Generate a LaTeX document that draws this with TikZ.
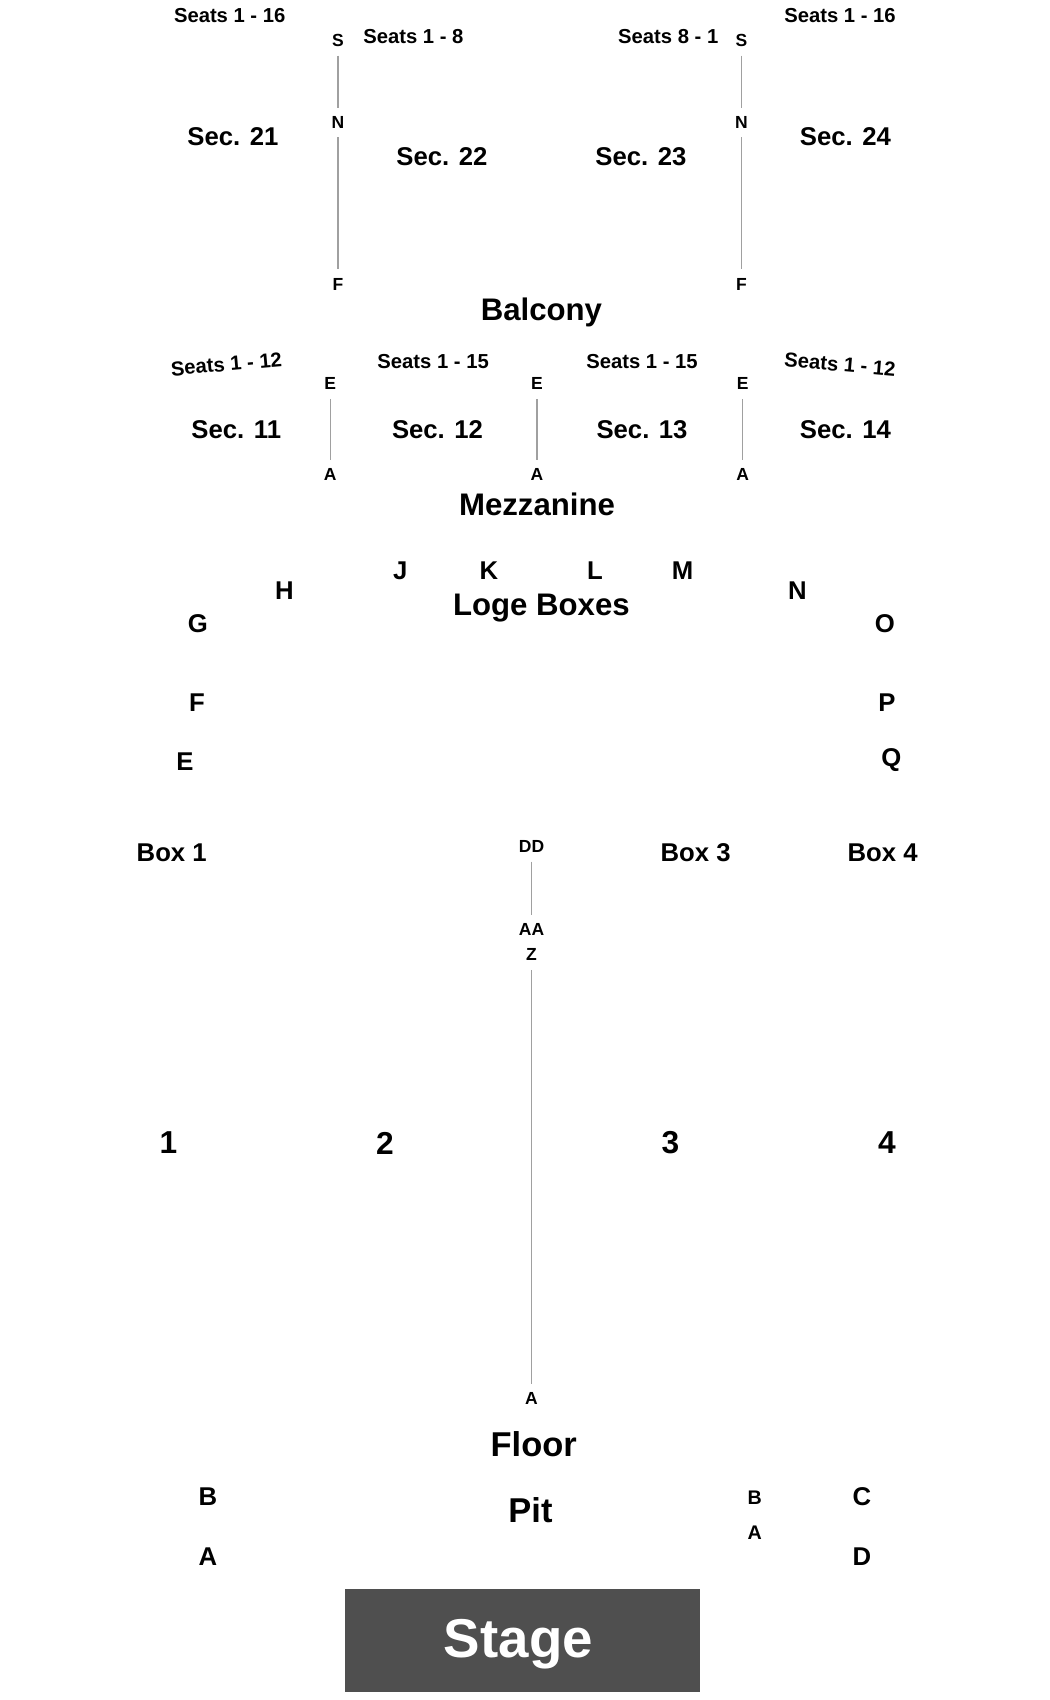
\documentclass[tikz,border=0pt]{standalone}
\usepackage{fontspec}
\setmainfont{Liberation Sans}
\definecolor{aislegray}{HTML}{A0A0A0}
\definecolor{stagegray}{HTML}{4F4F4F}
\tikzset{
  seat/.style={font=\fontsize{18.5}{20}\selectfont\bfseries, inner sep=0pt},
  sec/.style={font=\fontsize{23.5}{26}\selectfont\bfseries, inner sep=0pt},
  level/.style={font=\fontsize{28.5}{30}\selectfont\bfseries, inner sep=0pt},
  floorlab/.style={font=\fontsize{31.5}{33}\selectfont\bfseries, inner sep=0pt},
  num/.style={font=\fontsize{29}{31}\selectfont\bfseries, inner sep=0pt},
  rowlab/.style={font=\fontsize{16}{18}\selectfont\bfseries, inner sep=8pt},
  pitrow/.style={font=\fontsize{18}{20}\selectfont\bfseries, inner sep=0pt},
  aisle/.style={draw=aislegray, line width=1pt},
  stagebox/.style={fill=stagegray, draw=none, minimum width=325pt, minimum height=94pt, inner sep=0pt},
  stagetext/.style={font=\fontsize{50}{52}\selectfont\bfseries, text=white, inner sep=0pt}
}
\begin{document}
\begin{tikzpicture}[x=1pt,y=-1pt]
\useasboundingbox (0,0) rectangle (960,1554.3);
% Balcony
\node[seat] (st21) at (210,14) {Seats 1 - 16};
\node[seat] (st24) at (768,14) {Seats 1 - 16};
\node[seat] (st22) at (378,33) {Seats 1 - 8};
\node[seat] (st23) at (611,33) {Seats 8 - 1};
\node[rowlab] (bs1) at (309,37) {S};
\node[rowlab] (bn1) at (309,112) {N};
\node[rowlab] (bf1) at (309,260) {F};
\node[rowlab] (bs2) at (678,37) {S};
\node[rowlab] (bn2) at (678,112) {N};
\node[rowlab] (bf2) at (678,260) {F};
\draw[aisle] (bs1) -- (bn1);
\draw[aisle] (bn1) -- (bf1);
\draw[aisle] (bs2) -- (bn2);
\draw[aisle] (bn2) -- (bf2);
\node[sec] (s21) at (213,125) {Sec. 21};
\node[sec] (s22) at (404,143) {Sec. 22};
\node[sec] (s23) at (586,143) {Sec. 23};
\node[sec] (s24) at (773,125) {Sec. 24};
\node[level] (balc) at (495,286) {Balcony};
% Mezzanine
\node[seat, rotate=5] (st11) at (207,333) {Seats 1 - 12};
\node[seat] (st12) at (396,331) {Seats 1 - 15};
\node[seat] (st13) at (587,331) {Seats 1 - 15};
\node[seat, rotate=-5] (st14) at (768,333) {Seats 1 - 12};
\node[rowlab] (me1) at (302,351) {E};
\node[rowlab] (me2) at (491,351) {E};
\node[rowlab] (me3) at (679,351) {E};
\node[rowlab] (ma1) at (302,434) {A};
\node[rowlab] (ma2) at (491,434) {A};
\node[rowlab] (ma3) at (679,434) {A};
\draw[aisle] (me1) -- (ma1);
\draw[aisle] (me2) -- (ma2);
\draw[aisle] (me3) -- (ma3);
\node[sec] (s11) at (216,393) {Sec. 11};
\node[sec] (s12) at (400,393) {Sec. 12};
\node[sec] (s13) at (587,393) {Sec. 13};
\node[sec] (s14) at (773,393) {Sec. 14};
\node[level] (mezz) at (491,461) {Mezzanine};
% Loge boxes
\node[sec] (lj) at (366,522) {J};
\node[sec] (lk) at (447,522) {K};
\node[sec] (ll) at (544,522) {L};
\node[sec] (lm) at (624,522) {M};
\node[sec] (lh) at (260,540) {H};
\node[sec] (ln) at (729,540) {N};
\node[level] (loge) at (495,556) {Loge Boxes};
\node[sec] (lg) at (181,570) {G};
\node[sec] (lo) at (809,570) {O};
\node[sec] (lf) at (180,642) {F};
\node[sec] (lp) at (811,642) {P};
\node[sec] (le) at (169,696) {E};
\node[sec] (lq) at (815,695) {Q};
% Boxes and floor
\node[sec] (box1) at (157,780) {Box 1};
\node[sec] (box3) at (636,780) {Box 3};
\node[sec] (box4) at (807,780) {Box 4};
\node[rowlab] (fdd) at (486,774) {DD};
\node[rowlab] (faa) at (486,850) {AA};
\node[rowlab] (fz) at (486,873) {Z};
\node[rowlab] (fa) at (486,1279) {A};
\draw[aisle] (fdd) -- (faa);
\draw[aisle] (fz) -- (fa);
\node[num] (f1) at (154,1045) {1};
\node[num] (f2) at (352,1045) {2};
\node[num] (f3) at (613,1045) {3};
\node[num] (f4) at (811,1045) {4};
\node[floorlab] (floor) at (488,1320) {Floor};
% Pit
\node[sec] (pb) at (190,1368) {B};
\node[sec] (pa) at (190,1423) {A};
\node[sec] (pc) at (788,1368) {C};
\node[sec] (pd) at (788,1423) {D};
\node[pitrow] (pb2) at (690,1369) {B};
\node[pitrow] (pa2) at (690,1401) {A};
\node[floorlab] (pit) at (485,1381) {Pit};
% Stage
\node[stagebox] (stage) at (477.5,1500) {};
\node[stagetext] (stagelab) at (474,1503) {Stage};
\end{tikzpicture}
\end{document}
